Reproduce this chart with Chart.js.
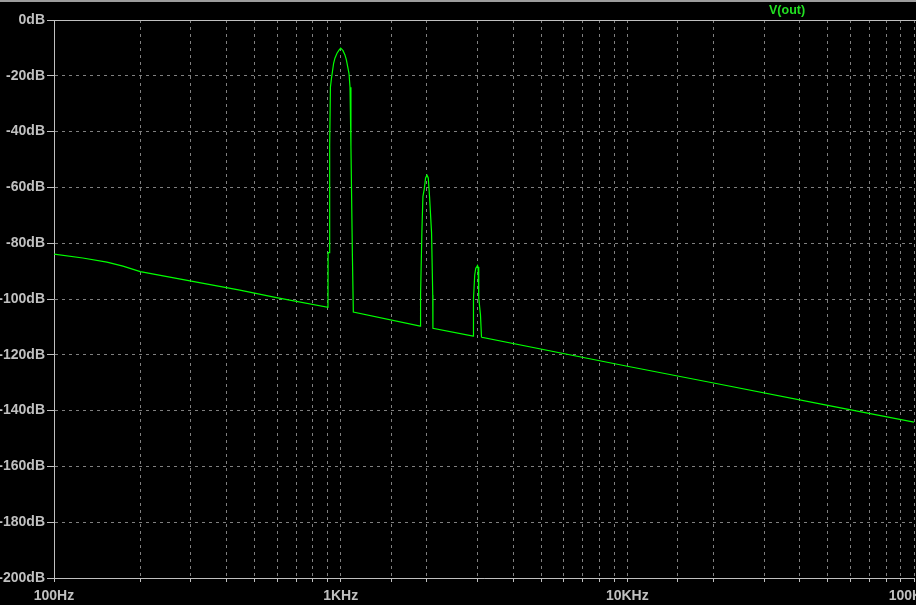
<!DOCTYPE html>
<html>
<head>
<meta charset="utf-8">
<script src="https://cdn.jsdelivr.net/npm/chart.js@4/dist/chart.umd.min.js"></script>
<style>
  html, body { margin: 0; padding: 0; background: #000; overflow: hidden; }
  #fft { display: block; }
</style>
</head>
<body>
<canvas id="fft" width="960" height="605"></canvas>
<script>
// frequency (Hz) and level of V(out) (dB)
const freqHz = [
  100, 126, 153, 174, 200, 298, 445, 597, 903,
  904, 913, 914, 917, 921, 928, 936, 945, 955, 971, 987, 1000,
  1019, 1035, 1047, 1058, 1069, 1078, 1086, 1099, 1107,
  1895, 1900, 1920, 1936, 1957, 1978, 2000, 2021, 2042, 2075, 2095, 2098,
  2900, 2906, 2935, 2960, 2985, 3000, 3015, 3032, 3074, 3099,
  3110, 10000, 20000, 50000, 100000
];
const vOutDb = [
  -83.9, -85.3, -86.8, -88.2, -90.2, -93.5, -96.8, -99.5, -103.0,
  -83.4, -83.4, -44.8, -44.8, -24.1, -21.2, -18.5, -15.5, -13.7, -11.9, -10.8, -10.1,
  -11.0, -12.5, -14.3, -16.7, -19.1, -24.1, -45.4, -84.8, -104.7,
  -109.7, -98.6, -76.2, -63.3, -60.6, -56.6, -55.6, -56.6, -63.3, -76.2, -98.6, -110.5,
  -113.3, -100.0, -91.4, -89.0, -88.5, -88.0, -88.5, -99.7, -105.7, -113.6,
  -113.7, -124.1, -130.1, -138.1, -144.1
];
const decadeLabels = { 100: "100Hz", 1000: "1KHz", 10000: "10KHz", 100000: "100KHz" };
const traceName = "V(out)";

const axisGrey = "#c0c0c0";
const gridGrey = "#808080";
const labelFont = { family: "Liberation Sans", size: 14, weight: "bold" };

const frame = {
  id: "frame",
  beforeDraw(chart) {
    const ctx = chart.ctx;
    ctx.save();
    ctx.fillStyle = "#000";
    ctx.fillRect(0, 0, chart.width, chart.height);
    ctx.fillStyle = "#9c9c9c";
    ctx.fillRect(0, 0, chart.width, 2);
    ctx.restore();
  },
  afterDraw(chart) {
    const ctx = chart.ctx;
    const a = chart.chartArea;
    ctx.save();
    ctx.strokeStyle = axisGrey;
    ctx.lineWidth = 1;
    ctx.beginPath();
    ctx.moveTo(a.left, a.top + 0.5);
    ctx.lineTo(chart.width, a.top + 0.5);
    ctx.stroke();
    ctx.fillStyle = "#22e022";
    ctx.font = "bold 12.5px 'Liberation Sans'";
    ctx.textBaseline = "middle";
    ctx.fillText(traceName, 769, 11);
    ctx.restore();
  }
};

new Chart(document.getElementById("fft"), {
  type: "line",
  data: {
    datasets: [{
      label: traceName,
      data: freqHz.map((f, i) => ({ x: f, y: vOutDb[i] })),
      borderColor: "#00ff00",
      borderWidth: 1.2,
      pointRadius: 0,
      tension: 0
    }]
  },
  options: {
    responsive: false,
    animation: false,
    layout: { padding: { top: 20, right: 46, left: 0, bottom: 0 } },
    plugins: { legend: { display: false }, tooltip: { enabled: false } },
    scales: {
      x: {
        type: "logarithmic",
        min: 100,
        max: 100000,
        afterFit(scale) { scale.height = 27; },
        grid: { color: gridGrey, tickColor: axisGrey, tickLength: 4 },
        border: { color: axisGrey, dash: [3, 4] },
        ticks: {
          color: axisGrey,
          font: labelFont,
          padding: 6,
          autoSkip: false,
          maxRotation: 0,
          callback: (v) => decadeLabels[v] || ""
        }
      },
      y: {
        min: -200,
        max: 0,
        afterFit(scale) { scale.width = 54; },
        grid: { color: gridGrey, tickColor: axisGrey, tickLength: 7 },
        border: { color: axisGrey, dash: [3, 4] },
        ticks: {
          stepSize: 20,
          color: axisGrey,
          font: labelFont,
          padding: 2,
          callback: (v) => v + "dB"
        }
      }
    }
  },
  plugins: [frame]
});
</script>
</body>
</html>
